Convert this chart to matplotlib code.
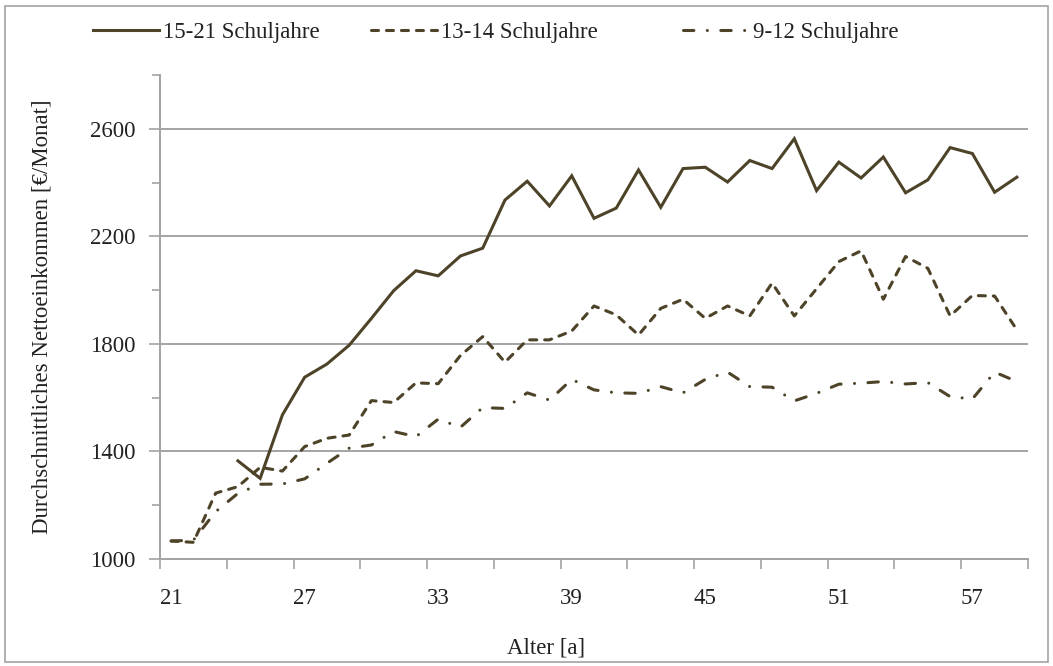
import matplotlib
matplotlib.use("Agg")
import matplotlib.pyplot as plt
from matplotlib.patches import Rectangle
from matplotlib.ticker import FixedLocator

plt.rcParams['font.family'] = ['Liberation Serif', 'DejaVu Serif']
plt.rcParams['font.size'] = 16.5

# Alter in Jahren (Kategorien)
ages = list(range(21, 60))

# 15-21 Schuljahre, beginnt erst mit 24
ages_high = list(range(24, 60))
income_high = [1365, 1300, 1536, 1676, 1725, 1795, 1895, 1998, 2072, 2053,
               2127, 2156, 2335, 2405, 2313, 2425, 2267, 2305, 2447, 2308,
               2452, 2457, 2402, 2482, 2452, 2563, 2370, 2476, 2417, 2495,
               2362, 2410, 2530, 2508, 2364, 2420]

# 13-14 Schuljahre
income_mid = [1067, 1062, 1245, 1269, 1341, 1327, 1418, 1449, 1461, 1589,
              1582, 1655, 1652, 1757, 1827, 1732, 1815, 1815, 1848, 1941,
              1908, 1833, 1932, 1966, 1895, 1941, 1904, 2026, 1904, 2005,
              2106, 2146, 1966, 2125, 2081, 1904, 1980, 1978, 1852]

# 9-12 Schuljahre
income_low = [1067, 1070, 1176, 1244, 1278, 1279, 1298, 1356, 1412, 1424,
              1474, 1455, 1520, 1490, 1563, 1560, 1618, 1591, 1668, 1629,
              1618, 1616, 1641, 1618, 1668, 1695, 1641, 1639, 1588, 1616,
              1650, 1654, 1660, 1651, 1656, 1604, 1595, 1695, 1660]

labels = ['15-21 Schuljahre', '13-14 Schuljahre', '9-12 Schuljahre']
xticks_labeled = [21, 27, 33, 39, 45, 51, 57]
yticks = [1000, 1400, 1800, 2200, 2600]

W, H = 1053, 666
line_col = '#4d4328'
grey = '#a3a3a3'
txt = '#222222'
lw = 2.2

fig = plt.figure(figsize=(W / 100, H / 100), dpi=100)
ax = fig.add_axes([160 / W, 1 - 559 / H, (1028 - 160) / W, (559 - 75) / H])

l1, = ax.plot(ages_high, income_high, color=line_col, lw=lw,
              solid_joinstyle='miter')
l2, = ax.plot(ages, income_mid, color=line_col, lw=lw,
              dashes=(2.3, 2.6), dash_capstyle='round')
l3, = ax.plot(ages, income_low, color=line_col, lw=lw,
              dashes=(3.4, 4.4, 0.01, 4.4), dash_capstyle='round')

ax.set_xlim(20.5, 59.5)
ax.set_ylim(1000, 2800)

ax.set_xticks(xticks_labeled)
ax.xaxis.set_minor_locator(FixedLocator([20.5 + 3 * k for k in range(14)]))
ax.tick_params(axis='x', which='major', length=0, pad=21)
ax.tick_params(axis='x', which='minor', length=7, width=1.2)

ax.set_yticks(yticks)
ax.yaxis.set_minor_locator(FixedLocator([1200, 1600, 2000, 2400, 2800]))
ax.tick_params(axis='y', which='major', length=8, width=1.2, pad=9.5)
ax.tick_params(axis='y', which='minor', length=6, width=1.2)
ax.tick_params(axis='both', which='both', color=grey, labelcolor=txt)

ax.yaxis.grid(True, which='major', color=grey, lw=1.4)
ax.set_axisbelow(True)

for side in ['top', 'right']:
    ax.spines[side].set_visible(False)
for side in ['left', 'bottom']:
    ax.spines[side].set_color(grey)
    ax.spines[side].set_linewidth(1.4)

fig.text(42 / W, 1 - 317 / H, 'Durchschnittliches Nettoeinkommen [€/Monat]',
         rotation=90, ha='center', va='center', color=txt)
fig.text(546 / W, 1 - 648 / H, 'Alter [a]', ha='center', va='center',
         color=txt)

# one legend per entry, placed like the original
for handle, label, x0 in zip([l1, l2, l3], labels, [93, 371, 683]):
    leg = fig.legend([handle], [label], loc='center left',
                     bbox_to_anchor=(x0 / W, 1 - 32 / H), frameon=False,
                     borderpad=0, borderaxespad=0,
                     handlelength=2.9, handletextpad=0.15, labelcolor=txt)

fig.add_artist(Rectangle((5 / W, 4 / H), (W - 10) / W, (H - 10) / H,
                         transform=fig.transFigure, fill=False,
                         ec=grey, lw=1.2))

fig.savefig('out.png', dpi=100)
